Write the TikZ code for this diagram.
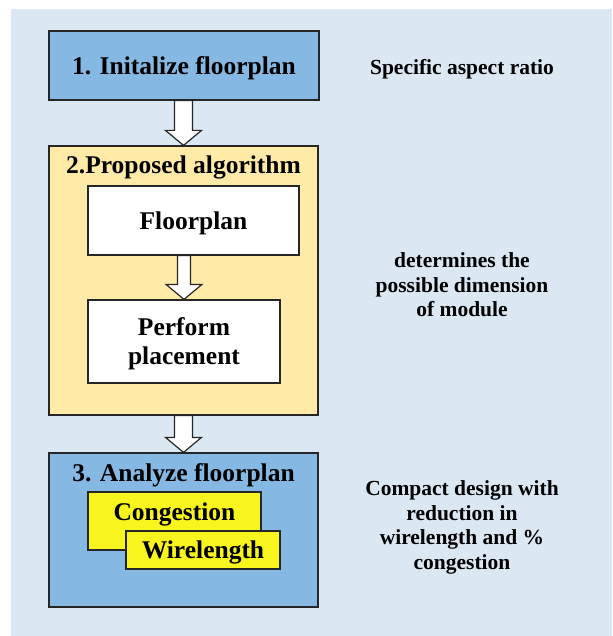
\documentclass[tikz,border=0pt]{standalone}
\usepackage{fontspec}
\setmainfont{Liberation Serif}
\usetikzlibrary{calc}
\definecolor{bgblue}{RGB}{219,232,244}
\definecolor{stepblue}{RGB}{133,185,227}
\definecolor{algoyellow}{RGB}{255,234,168}
\definecolor{hiyellow}{RGB}{248,244,30}
\tikzset{
  box/.style={draw=black!85, line width=1.2pt, inner sep=0pt, text depth=0pt, font=\bfseries\fontsize{25.5}{29}\selectfont},
  boxtext/.style={inner sep=0pt, text depth=0pt, font=\bfseries\fontsize{25.5}{29}\selectfont},
  fat/.style={draw=black!85, line width=1.2pt, fill=white,
    to path={let \p1=(\tikztostart), \p2=(\tikztotarget) in
      (\x2-#1,\y1) -- (\x2-#1,\y2+15pt) -- (\x2-18pt,\y2+15pt) -- (\x2,\y2)
      -- (\x2+18pt,\y2+15pt) -- (\x2+#1,\y2+15pt) -- (\x2+#1,\y1) -- cycle}},
  fat/.default=9pt,
  note/.style={align=center, text depth=0pt, font=\bfseries\fontsize{21.5}{24.5}\selectfont}
}

\begin{document}
\begin{tikzpicture}[x=1pt,y=-1pt]

    \useasboundingbox (0,0) rectangle (612,636);
    \fill[bgblue] (11,9) rectangle (612,636);

    \node[box, fill=stepblue, minimum width=270pt, minimum height=69pt] (init) at (184,65.5) {1. Initalize floorplan};
    \node[box, fill=algoyellow, minimum width=269pt, minimum height=269pt] (algo) at (183.5,280.5) {};
    \node[boxtext] (algotitle) at (183.5,165) {2.Proposed algorithm};
    \node[box, fill=white, minimum width=211pt, minimum height=69pt] (floor) at (193.5,220.5) {Floorplan};
    \node[box, fill=white, minimum width=192pt, minimum height=83pt, align=center] (place) at (184,341.5) {Perform\\placement};
    \node[box, fill=stepblue, minimum width=269pt, minimum height=154pt] (analyze) at (183.5,530) {};
    \node[boxtext] (analyzetitle) at (183.5,473) {3. Analyze floorplan};
    \node[box, fill=hiyellow, minimum width=173pt, minimum height=58pt] (cong) at (174.5,521) {};
    \node[boxtext] (congtext) at (174.5,512) {Congestion};
    \node[box, fill=hiyellow, minimum width=154pt, minimum height=38pt] (wire) at (203,550) {Wirelength};

    \draw[fat] (init.south) to (algo.north);
    \draw[fat=6.5pt] (floor.south -| place.north) to (place.north);
    \draw[fat] (algo.south) to (analyze.north);

    \node[note] (aspect) at (462,66.5) {Specific aspect ratio};
    \node[note] (dims) at (462,285) {determines the\\possible dimension\\of module};
    \node[note] (compact) at (462,525) {Compact design with\\reduction in\\wirelength and \%\\congestion};

\end{tikzpicture}
\end{document}
